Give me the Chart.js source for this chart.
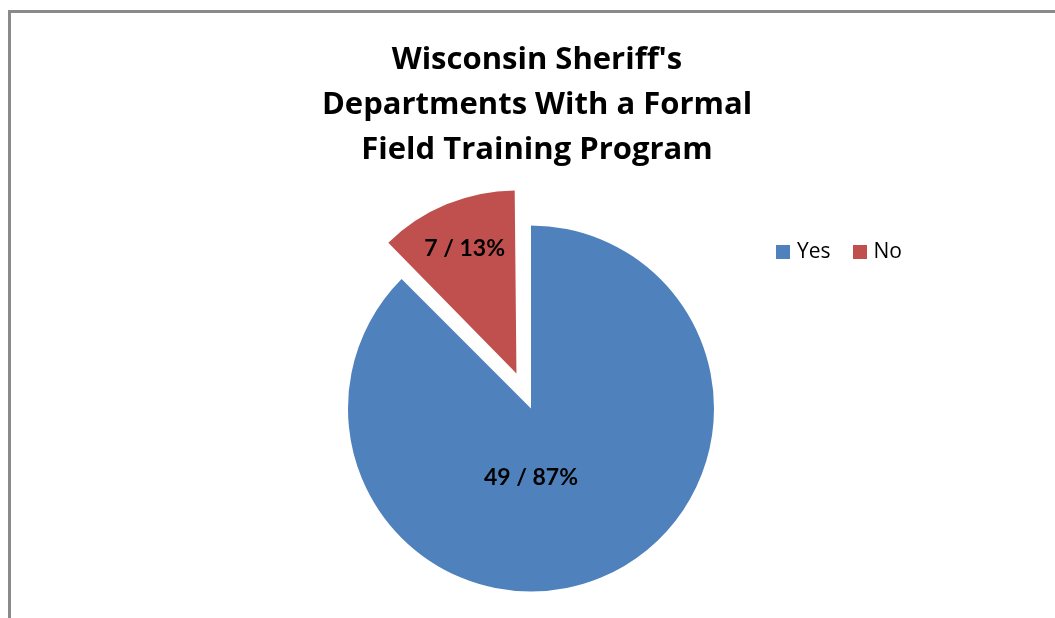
<!DOCTYPE html>
<html>
<head>
<meta charset="utf-8">
<script src="https://cdn.jsdelivr.net/npm/chart.js@4.4.1/dist/chart.umd.min.js"></script>
<style>
	html, body { margin: 0; padding: 0; background: #fff; overflow: hidden; }
	#wrap { position: relative; width: 1055px; height: 618px; font-family: 'Open Sans', Lato, sans-serif; color: #000; }
	#frame { position: absolute; left: 8px; top: 10px; width: 1200px; height: 800px; border-left: 3px solid #8a8a8a; border-top: 3px solid #8a8a8a; }
	#title { position: absolute; left: 0; top: 35px; width: 1074px; text-align: center; font-weight: bold; font-size: 31px; line-height: 45px; }
	#legend { position: absolute; left: 776px; top: 236px; font-size: 21px; line-height: 28px; white-space: nowrap; }
	#legend .item { display: inline-block; margin-right: 22px; }
	#legend .box { display: inline-block; width: 14px; height: 14px; margin-right: 7px; vertical-align: -1px; }
	canvas { position: absolute; left: 0; top: 0; }
</style>
</head>
<body>
<div id="wrap">
	<div id="frame"></div>
	<canvas id="pie" width="1055" height="618"></canvas>
	<div id="title">Wisconsin Sheriff's<br>Departments With a Formal<br>Field Training Program</div>
	<div id="legend"></div>
</div>
<script>
var categories = ['Yes', 'No'];
var counts = [49, 7];
var percents = [87, 13];
var colors = ['#4F81BD', '#C0504D'];

// legend, plain html like the original
var legendHtml = '';
categories.forEach(function (c, i) {
	legendHtml += '<span class="item"><span class="box" style="background:' + colors[i] + '"></span>' + c + '</span>';
});
document.getElementById('legend').innerHTML = legendHtml;

// arc.draw() grows an offset slice by offset/4 * (1 - sin(circ)); undo that so the exploded slice keeps the same radius
var keepRadius = {
	id: 'keepRadius',
	beforeDatasetsDraw: function (chart) {
		var meta = chart.getDatasetMeta(0);
		meta.data.forEach(function (el) {
			var off = (el.options.offset || 0) / 4;
			var fix = 1 - Math.sin(Math.min(Math.PI, el.circumference));
			el.outerRadius = meta.controller.outerRadius - off * fix;
		});
	}
};

var sliceLabels = {
	id: 'sliceLabels',
	afterDatasetsDraw: function (chart, args, opts) {
		var meta = chart.getDatasetMeta(0);
		var ctx = chart.ctx;
		ctx.save();
		ctx.font = opts.font;
		ctx.fillStyle = '#000';
		ctx.textAlign = 'center';
		ctx.textBaseline = 'middle';
		meta.data.forEach(function (el, i) {
			var mid = (el.startAngle + el.endAngle) / 2;
			var shift = (el.options.offset || 0) / 4;
			var cx = el.x + Math.cos(mid) * shift;
			var cy = el.y + Math.sin(mid) * shift;
			var a = opts.angles[i] === null ? mid : (opts.angles[i] - 90) * Math.PI / 180;
			var r = meta.controller.outerRadius * opts.fractions[i];
			ctx.fillText(counts[i] + ' / ' + percents[i] + '%', cx + Math.cos(a) * r, cy + Math.sin(a) * r);
		});
		ctx.restore();
	}
};

new Chart(document.getElementById('pie'), {
	type: 'pie',
	data: {
		labels: categories,
		datasets: [{
			data: counts,
			backgroundColor: colors,
			borderWidth: 0,
			offset: [0, 152]
		}]
	},
	options: {
		responsive: false,
		animation: false,
		radius: 183,
		layout: { padding: { left: 7, right: 0, top: 199, bottom: 0 } },
		plugins: {
			legend: { display: false },
			tooltip: { enabled: false },
			sliceLabels: { font: 'bold 23px Lato, sans-serif', fractions: [0.38, 0.74], angles: [180, null] }
		}
	},
	plugins: [keepRadius, sliceLabels]
});
</script>
</body>
</html>
